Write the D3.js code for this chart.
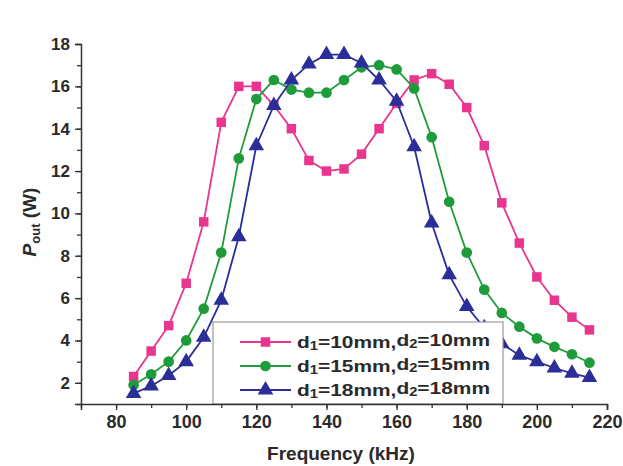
<!DOCTYPE html>
<html><head><meta charset="utf-8">
<script src="https://cdn.jsdelivr.net/npm/d3@7"></script>
<style>
body{margin:0;background:#fff;}
text{font-family:"Liberation Sans",Arial,sans-serif;font-weight:bold;fill:#2a2a2a;}
</style></head>
<body><svg id="c" width="623" height="466"></svg>
<script>
const freq = [85,90,95,100,105,110,115,120,125,130,135,140,145,150,155,160,165,170,175,180,185,190,195,200,205,210,215];
const p10 = [2.3,3.5,4.7,6.7,9.6,14.3,16.0,16.0,15.1,14.0,12.5,12.0,12.1,12.8,14.0,15.2,16.3,16.6,16.1,15.0,13.2,10.5,8.6,7.0,5.9,5.1,4.5];
const p15 = [1.9,2.4,3.0,4.0,5.5,8.15,12.6,15.4,16.3,15.85,15.7,15.7,16.3,16.9,17.0,16.8,15.9,13.6,10.55,8.15,6.4,5.3,4.65,4.1,3.7,3.35,2.95];
const p18 = [1.5,1.85,2.35,3.0,4.15,5.9,8.9,13.2,15.1,16.3,17.05,17.5,17.5,17.1,16.3,15.3,13.15,9.55,7.1,5.6,4.6,3.85,3.3,3.0,2.7,2.45,2.25];
const seriesNames = [["d","1","=10mm,","d","2","=10mm"],["d","1","=15mm,","d","2","=15mm"],["d","1","=18mm,","d","2","=18mm"]];
const xTicks = [80,100,120,140,160,180,200,220];
const yTicks = [2,4,6,8,10,12,14,16,18];
const xLabel = "Frequency (kHz)";

const svg = d3.select("#c");
const x = d3.scaleLinear().domain([70,220]).range([81,607]);
const y = d3.scaleLinear().domain([1,18]).range([404,44]);
const colors = ["#e8358e","#1e9c3c","#2b2d98"];
const shapes = [d3.symbolSquare, d3.symbolCircle, d3.symbolTriangle];
const sizes = [90, 90, 105];
const all = [p10,p15,p18];

const line = d3.line().x(d=>x(d[0])).y(d=>y(d[1]));
all.forEach((s,i)=>{
  const pts = freq.map((f,j)=>[f,s[j]]);
  svg.append("path").attr("d",line(pts)).attr("fill","none").attr("stroke",colors[i]).attr("stroke-width",1.8);
  svg.append("g").selectAll("path").data(pts).join("path")
    .attr("transform",d=>`translate(${x(d[0])},${y(d[1])})`)
    .attr("d",d3.symbol().type(shapes[i]).size(sizes[i]))
    .attr("fill",colors[i]);
});

// legend
const lg = svg.append("g");
lg.append("rect").attr("x",213).attr("y",322).attr("width",290).attr("height",82)
  .attr("fill","#fff").attr("stroke","#9a9a9a").attr("stroke-width",1.2);
seriesNames.forEach((nm,i)=>{
  const yy = 342 + i*24;
  lg.append("line").attr("x1",240).attr("x2",291).attr("y1",yy).attr("y2",yy).attr("stroke",colors[i]).attr("stroke-width",2);
  lg.append("path").attr("transform",`translate(265.5,${yy})`).attr("d",d3.symbol().type(shapes[i]).size(sizes[i])).attr("fill",colors[i]);
  const t = lg.append("text").attr("x",297).attr("y",yy+6).attr("font-size",17)
    .attr("textLength",193).attr("lengthAdjust","spacingAndGlyphs");
  nm.forEach((s,k)=>{
    const sub = (k===1||k===4);
    const ts = t.append("tspan").text(s);
    if(sub) ts.attr("font-size",12).attr("dy",2);
    else if(k>0) ts.attr("dy",-2);
  });
});

// axes
const xa = svg.append("g").attr("transform","translate(0,404)");
xa.call(d3.axisBottom(x).tickValues(d3.range(70,221,10)).tickSize(4).tickFormat(""));
xa.call(g=>g.select(".domain").remove());
const xb = svg.append("g").attr("transform","translate(0,404)");
xb.call(d3.axisBottom(x).tickValues(xTicks).tickSize(6).tickPadding(5).tickFormat(d3.format("d")));
xb.select(".domain").attr("stroke","#333").attr("stroke-width",1.5);
xb.selectAll("text").attr("font-size",18).attr("fill","#2a2a2a").attr("font-family","Liberation Sans, Arial").attr("font-weight","bold");

const ya = svg.append("g").attr("transform","translate(81,0)");
ya.call(d3.axisLeft(y).tickValues(d3.range(1,19,1)).tickSize(4).tickFormat(""));
ya.call(g=>g.select(".domain").remove());
const yb = svg.append("g").attr("transform","translate(81,0)");
yb.call(d3.axisLeft(y).tickValues(yTicks).tickSize(6).tickPadding(5).tickFormat(d3.format("d")));
yb.select(".domain").attr("stroke","#333").attr("stroke-width",1.5);
yb.selectAll("text").attr("font-size",17).attr("fill","#2a2a2a").attr("font-family","Liberation Sans, Arial").attr("font-weight","bold");
svg.selectAll(".tick line").attr("stroke","#333").attr("stroke-width",1.3);

svg.append("text").attr("x",341).attr("y",460).attr("text-anchor","middle").attr("font-size",19).text(xLabel);
const yl = svg.append("text").attr("transform","translate(36,222) rotate(-90)").attr("text-anchor","middle").attr("font-size",19);
yl.append("tspan").attr("font-style","italic").text("P");
yl.append("tspan").attr("font-size",13).attr("dy",4).text("out");
yl.append("tspan").attr("dy",-4).text(" (W)");
</script></body></html>
